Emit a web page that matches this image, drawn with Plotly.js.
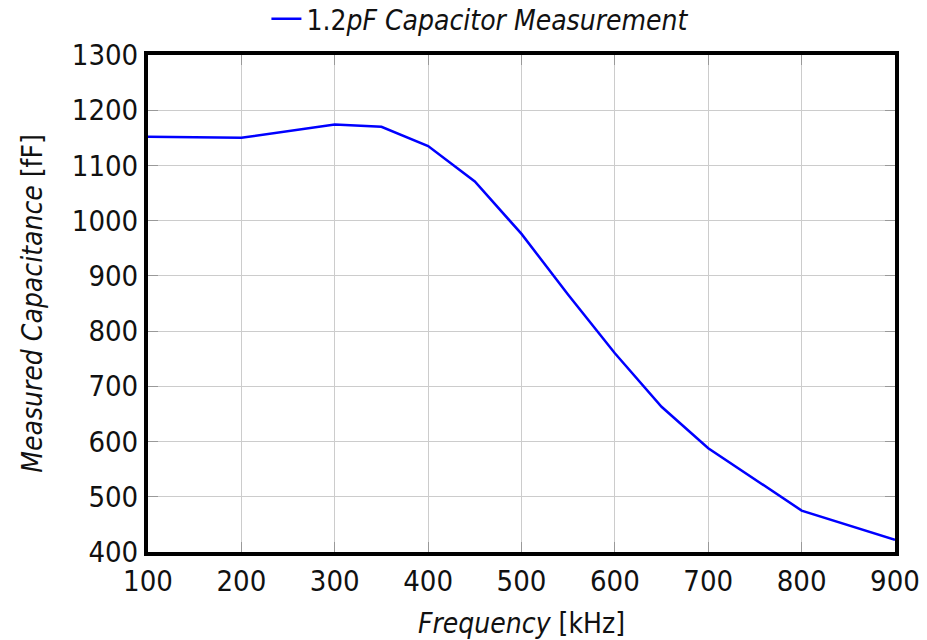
<!DOCTYPE html>
<html>
<head>
<meta charset="utf-8">
<script src="https://cdn.plot.ly/plotly-3.0.1.min.js"></script>
<style>html,body{margin:0;padding:0;background:#fff;}#chart{width:927px;height:640px;}</style>
</head>
<body>
<div id="chart"></div>
<script>
const frequencyKHz = [100, 200, 300, 350, 400, 450, 500, 550, 600, 650, 700, 800, 900];
const capacitanceFF = [1152, 1150, 1174, 1170, 1135, 1071, 976, 866, 760, 663, 588, 475, 422];
const seriesName = '1.2<i>pF Capacitor Measurement</i>';
const xTicks = [100, 200, 300, 400, 500, 600, 700, 800, 900];
const yTicks = [400, 500, 600, 700, 800, 900, 1000, 1100, 1200, 1300];

const FONT = '"DejaVu Sans Condensed", "DejaVu Sans", sans-serif';

const trace = {
  x: frequencyKHz,
  y: capacitanceFF,
  type: 'scatter',
  mode: 'lines',
  name: seriesName,
  line: {color: '#0000ff', width: 2.5}
};

const axisCommon = {
  showline: true,
  linecolor: '#000',
  linewidth: 4,
  mirror: 'ticks',
  showgrid: true,
  gridcolor: '#cccccc',
  gridwidth: 1,
  ticks: 'inside',
  ticklen: 10,
  tickcolor: '#999999',
  tickwidth: 1,
  zeroline: false,
  automargin: false,
  tickfont: {family: FONT, size: 29, color: '#111'}
};

const layout = {
  width: 927,
  height: 640,
  margin: {l: 148, r: 32, t: 55, b: 88, autoexpand: false},
  paper_bgcolor: '#fff',
  plot_bgcolor: '#fff',
  font: {family: FONT, size: 28, color: '#111'},
  showlegend: true,
  legend: {
    orientation: 'h',
    x: 0.445, xanchor: 'center',
    y: 1.022, yanchor: 'bottom',
    font: {family: FONT, size: 28, color: '#111'},
    bgcolor: 'rgba(0,0,0,0)'
  },
  xaxis: Object.assign({}, axisCommon, {
    range: [100, 900],
    tickvals: xTicks,
    ticktext: xTicks.map(String),
    title: {text: '<i>Frequency</i> [kHz]', font: {family: FONT, size: 28, color: '#111'}, standoff: 20}
  }),
  yaxis: Object.assign({}, axisCommon, {
    range: [400, 1300],
    tickvals: yTicks,
    ticktext: yTicks.map(String),
    title: {text: '<i>Measured Capacitance</i> [fF]', font: {family: FONT, size: 28, color: '#111'}, standoff: 22}
  })
};

Plotly.newPlot('chart', [trace], layout, {displayModeBar: false, staticPlot: true});
</script>
</body>
</html>
